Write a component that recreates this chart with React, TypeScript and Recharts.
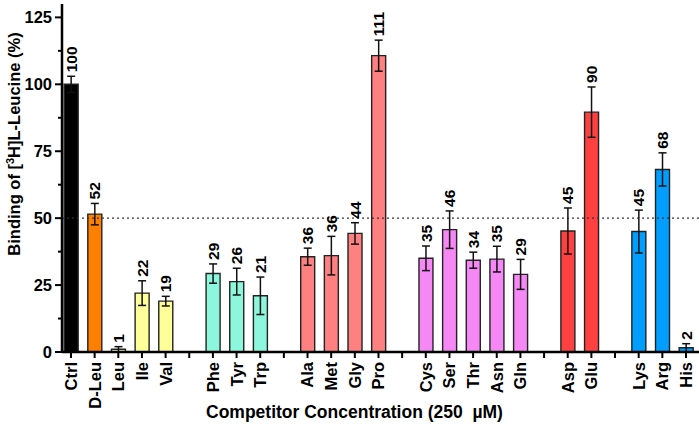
import React from "react";
import {
  BarChart,
  Bar,
  XAxis,
  YAxis,
  ErrorBar,
  Cell,
  LabelList,
  ReferenceLine,
  Label,
} from "recharts";

// slot labels along the x axis, "" = empty spacer slot between groups
const slots = [
  "Ctrl", "D-Leu", "Leu", "Ile", "Val", "",
  "Phe", "Tyr", "Trp", "",
  "Ala", "Met", "Gly", "Pro", "",
  "Cys", "Ser", "Thr", "Asn", "Gln", "",
  "Asp", "Glu", "",
  "Lys", "Arg", "His",
];

const competitors = [
  "Ctrl", "D-Leu", "Leu", "Ile", "Val",
  "Phe", "Tyr", "Trp",
  "Ala", "Met", "Gly", "Pro",
  "Cys", "Ser", "Thr", "Asn", "Gln",
  "Asp", "Glu",
  "Lys", "Arg", "His",
];
const binding = [
  100, 51.5, 1, 22, 19,
  29.3, 26.3, 21,
  35.6, 36, 44.3, 110.7,
  35, 45.7, 34.3, 34.7, 29,
  45.2, 89.6,
  45, 68.2, 1.6,
];
const sem = [
  3, 4, 1, 4.6, 1.8,
  3.6, 5, 7,
  3.2, 7.2, 4, 5.8,
  4.6, 7, 3, 4.8, 5.6,
  8.6, 9.4,
  8, 6.2, 1.5,
];
const valueLabels = [
  "100", "52", "1", "22", "19",
  "29", "26", "21",
  "36", "36", "44", "111",
  "35", "46", "34", "35", "29",
  "45", "90",
  "45", "68", "2",
];
const colors = [
  "#000000", "#FF8000", "#FFFF99", "#FFFF99", "#FFFF99",
  "#8CF7DC", "#8CF7DC", "#8CF7DC",
  "#FF8080", "#FF8080", "#FF8080", "#FF8080",
  "#F588F5", "#F588F5", "#F588F5", "#F588F5", "#F588F5",
  "#FF4040", "#FF4040",
  "#009FFF", "#009FFF", "#009FFF",
];
const yTicks = [0, 12.5, 25, 37.5, 50, 62.5, 75, 87.5, 100, 112.5, 125];

const data = competitors.map((name, i) => ({
  name,
  pos: slots.indexOf(name),
  value: binding[i],
  err: sem[i],
  label: valueLabels[i],
}));

const FONT = "Arial, 'Liberation Sans', Helvetica, sans-serif";

const XTick = (props: any) => {
  const { x, y, payload } = props;
  const text = slots[payload.value] || "";
  return (
    <text
      x={x}
      y={y}
      transform={`rotate(-90 ${x} ${y})`}
      textAnchor="end"
      dy="0.36em"
      fontFamily={FONT}
      fontWeight="bold"
      fontSize={16.5}
      fill="#000"
    >
      {text}
    </text>
  );
};

const YTick = (props: any) => {
  const { x, y, payload } = props;
  const axisX = x + 10;
  const major = payload.value % 25 === 0;
  return (
    <g>
      <line x1={axisX - (major ? 7 : 4)} x2={axisX} y1={y} y2={y} stroke="#000" strokeWidth={2} />
      {major && (
        <text
          x={x}
          y={y}
          textAnchor="end"
          dy="0.36em"
          fontFamily={FONT}
          fontWeight="bold"
          fontSize={16.5}
          fill="#000"
        >
          {payload.value}
        </text>
      )}
    </g>
  );
};

const ValueLabel = (props: any) => {
  const { x, y, width, height, index } = props;
  const d = data[index];
  const perUnit = d.value > 0 ? height / d.value : 0;
  const cx = x + width / 2;
  const ty = y - d.err * perUnit - 4;
  return (
    <text
      x={cx}
      y={ty}
      transform={`rotate(-90 ${cx} ${ty})`}
      textAnchor="start"
      dy="0.36em"
      fontFamily={FONT}
      fontWeight="bold"
      fontSize={15.5}
      fill="#000"
    >
      {d.label}
    </text>
  );
};

const YLabel = () => {
  const cx = 14;
  const cy = 144;
  return (
    <text
      x={cx}
      y={cy}
      transform={`rotate(-90 ${cx} ${cy})`}
      textAnchor="middle"
      dy="0.36em"
      fontFamily={FONT}
      fontWeight="bold"
      fontSize={16.5}
      fill="#000"
    >
      Binding of [
      <tspan dy="-6" fontSize={11}>3</tspan>
      <tspan dy="6">H]L-Leucine (%)</tspan>
    </text>
  );
};

export default function App() {
  return (
    <div style={{ position: "absolute", left: 0, top: 0 }}>
      <BarChart
        width={699}
        height={424}
        data={data}
        margin={{ top: 4, right: 0, left: 0, bottom: 0 }}
      >
        <XAxis
          dataKey="pos"
          type="number"
          domain={[-0.38, 26.55]}
          ticks={slots.map((_, i) => i)}
          interval={0}
          tick={<XTick />}
          tickSize={6}
          tickMargin={4}
          height={72}
          axisLine={{ stroke: "#000", strokeWidth: 2.5 }}
          tickLine={{ stroke: "#000", strokeWidth: 2 }}
          allowDataOverflow
        >
          <Label
            value={"Competitor Concentration (250\u00A0\u00A0µM)"}
            position="insideBottom"
            offset={6}
            dx={-26}
            style={{ fontFamily: FONT, fontWeight: "bold", fontSize: 17.5, fill: "#000" }}
          />
        </XAxis>
        <YAxis
          type="number"
          domain={[0, 130]}
          ticks={yTicks}
          interval={0}
          width={62}
          tickSize={7}
          tickMargin={3}
          tick={<YTick />}
          tickLine={false}
          axisLine={{ stroke: "#000", strokeWidth: 2.5 }}
          allowDataOverflow
        >
          <Label content={<YLabel />} />
        </YAxis>
        <ReferenceLine y={50} stroke="#333" strokeWidth={1.2} strokeDasharray="2 3" />
        <Bar
          dataKey="value"
          barSize={14}
          stroke="#222"
          strokeWidth={1.4}
          isAnimationActive={false}
        >
          {data.map((d, i) => (
            <Cell key={d.name} fill={colors[i]} />
          ))}
          <ErrorBar dataKey="err" width={4} stroke="#111" strokeWidth={1.5} direction="y" />
          <LabelList dataKey="label" content={<ValueLabel />} />
        </Bar>
      </BarChart>
    </div>
  );
}
